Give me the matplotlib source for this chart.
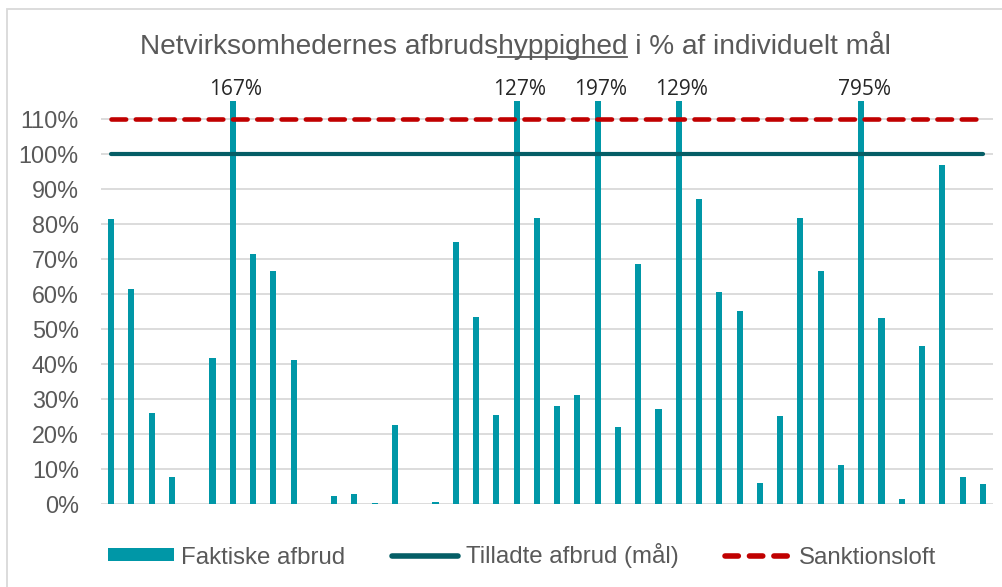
import numpy as np
import matplotlib
matplotlib.use("Agg")
import matplotlib.pyplot as plt
from matplotlib.patches import Patch, Rectangle
from matplotlib.lines import Line2D

# Afbrudshyppighed pr. netvirksomhed i % af individuelt mål
faktiske = [81.3, 61.3, 25.9, 7.6, 0.0, 41.6, 167.0, 71.4, 66.5, 41.0,
            0.0, 2.4, 2.9, 0.3, 22.5, 0.0, 0.7, 74.9, 53.5, 25.4,
            127.0, 81.6, 28.0, 31.1, 197.0, 22.1, 68.4, 27.0, 129.0, 86.9,
            60.5, 55.1, 5.9, 25.0, 81.7, 66.5, 11.0, 795.0, 53.0, 1.5,
            45.0, 96.6, 7.6, 5.6]
maal = 100.0
sanktionsloft = 110.0
yticks = list(range(0, 111, 10))

title_pre = "Netvirksomhedernes afbruds"
title_ul = "hyppighed"
title_post = " i % af individuelt mål"

BAR = "#0097A7"
MAAL = "#055E66"
RED = "#C00000"
GRID = "#D9D9D9"
TXT = "#595959"
TFS = 20.2

plt.rcParams['font.family'] = ['Liberation Sans', 'DejaVu Sans']

fig = plt.figure(figsize=(10.02, 5.87), dpi=100)
ax = fig.add_axes([101/1002, 1 - 504/587, 892/1002, 403/587])

x = np.arange(len(faktiske))
ax.bar(x, faktiske, width=0.3, color=BAR, zorder=2)
ax.plot([x[0], x[-1]], [maal, maal], color=MAAL, lw=3, solid_capstyle='round', zorder=3)
ax.plot([x[0], x[-1]], [sanktionsloft, sanktionsloft], color=RED, lw=3.3,
        dashes=(3.2, 2.1), dash_capstyle='round', zorder=3)

ymax = 115
ax.set_xlim(-0.5, len(faktiske) - 0.5)
ax.set_ylim(0, ymax)
ax.set_yticks(yticks)
ax.set_yticklabels([f"{t}%" for t in yticks], fontsize=16.8, color=TXT)
ax.set_xticks([])
ax.tick_params(axis='y', length=0, pad=16)
for s in ax.spines.values():
    s.set_visible(False)
ax.grid(axis='y', color=GRID, lw=1.3, zorder=0)
ax.set_axisbelow(True)

# bars running past the top get their value printed above
for xi, v in zip(x, faktiske):
    if v > ymax:
        ax.annotate(f"{v:.0f}%", (xi, ymax), xytext=(2, 1), textcoords='offset points',
                    ha='center', va='bottom', fontsize=15, color='#262626',
                    family=['Open Sans', 'DejaVu Sans'], annotation_clip=False)

# title with underlined word
full = title_pre + title_ul + title_post
t = fig.text(515/1002, 1 - 46/587, full, ha='center', va='center', fontsize=TFS, color=TXT)
r = fig.canvas.get_renderer()
bb = t.get_window_extent(r)
def width(s):
    tmp = fig.text(0, 0, s, fontsize=TFS)
    w = tmp.get_window_extent(r).width
    tmp.remove()
    return w
x0 = bb.x0 + width(title_pre)
x1 = bb.x0 + width(title_pre + title_ul)
uy = bb.y0 + 4
fig.add_artist(Line2D([x0 / fig.bbox.width, x1 / fig.bbox.width],
                      [uy / fig.bbox.height, uy / fig.bbox.height],
                      color=TXT, lw=1.3, transform=fig.transFigure))

# chart frame
fig.add_artist(Rectangle((7/1002, -0.1), 1.2, 1.1 - 9/587, transform=fig.transFigure,
                         fill=False, edgecolor=GRID, lw=1.3))

handles = [Patch(facecolor=BAR, edgecolor='none'),
           Line2D([], [], color=MAAL, lw=4, solid_capstyle='round'),
           Line2D([], [], color=RED, lw=4, dashes=(2.4, 2.0), dash_capstyle='round')]
labels = ["Faktiske afbrud", "Tilladte afbrud (mål)", "Sanktionsloft"]
leg = fig.legend(handles, labels, loc='center', bbox_to_anchor=(522/1002, 1 - 556/587),
                 ncol=3, frameon=False, fontsize=17.3, handlelength=2.75, handleheight=0.45,
                 handletextpad=0.3, columnspacing=1.95, labelcolor=TXT)

fig.savefig("out.png", dpi=100)
